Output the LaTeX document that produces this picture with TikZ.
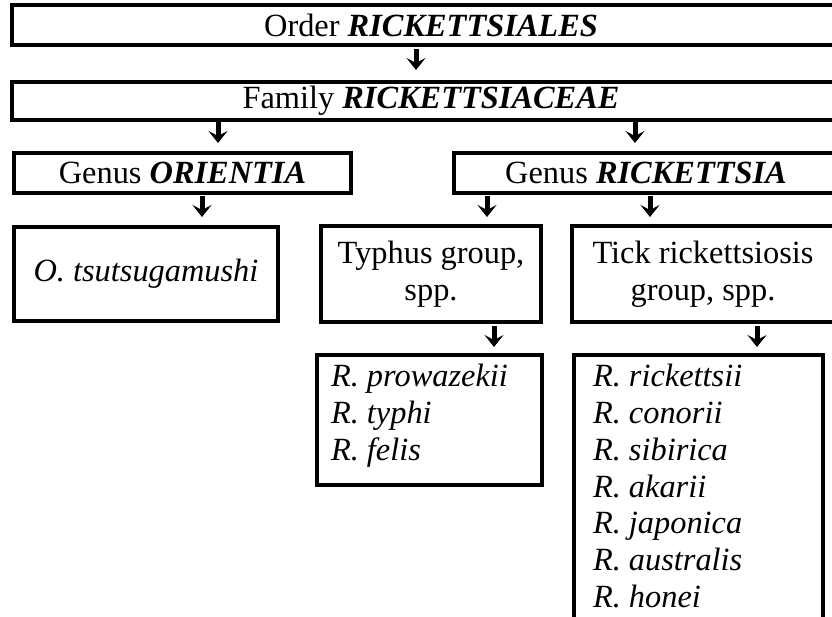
\documentclass[tikz,border=0pt]{standalone}
\usepackage{fontspec}
\setmainfont{Liberation Serif}
\usetikzlibrary{arrows.meta}
\begin{document}
\begin{tikzpicture}[x=1bp,y=-1bp,
  box/.style={draw, line width=3.5bp, inner sep=0pt, outer sep=0pt, anchor=north west,
    font=\fontsize{32.5}{37}\selectfont, align=center},
  lst/.style={inner sep=0pt, outer sep=0pt, anchor=north west, align=left,
    font=\fontsize{32.5}{37}\selectfont\itshape},
  arr/.style={line width=5bp, -{Stealth[length=12bp,width=19bp,inset=5bp]}}
]
\useasboundingbox (0,0) rectangle (832,617);
\clip (0,0) rectangle (832,617);
\newcommand{\nm}[1]{\textbf{\textit{#1}}}

\node[box, minimum width=838bp, minimum height=40bp] (order) at (12,5) {Order \nm{RICKETTSIALES}};
\node[box, minimum width=838bp, minimum height=38bp] (family) at (12,82) {Family \nm{RICKETTSIACEAE}};
\node[box, minimum width=337bp, minimum height=40bp] (orient) at (14,153) {Genus \nm{ORIENTIA}};
\node[box, minimum width=384bp, minimum height=40bp] (rick) at (454,153) {Genus \nm{RICKETTSIA}};
\node[box, minimum width=264bp, minimum height=94bp] (otsu) at (14,227) {\textit{O. tsutsugamushi}};
\node[box, minimum width=220bp, minimum height=96bp] (typhus) at (321,226) {Typhus group,\\spp.};
\node[box, minimum width=262bp, minimum height=96bp] (tick) at (572,226) {Tick rickettsiosis\\group, spp.};
\node[box, minimum width=225bp, minimum height=130bp] (tlist) at (317,355) {};
\node[box, minimum width=249bp, minimum height=300bp] (klist) at (574,355) {};
\node[lst] (ttext) at (331,364) {R. prowazekii\\R. typhi\\R. felis};
\node[lst] (ktext) at (593,364) {R. rickettsii\\R. conorii\\R. sibirica\\R. akarii\\R. japonica\\R. australis\\R. honei};

\coordinate (a1) at (416,0);
\coordinate (a2) at (218,0);
\coordinate (a3) at (635,0);
\coordinate (a4) at (202,0);
\coordinate (a5) at (487,0);
\coordinate (a6) at (650,0);
\coordinate (a7) at (494,0);
\coordinate (a8) at (757,0);

\draw[arr] ([yshift=-4bp]a1 |- order.south) -- ++(0,21);
\draw[arr] ([yshift=-2bp]a2 |- family.south) -- ++(0,21);
\draw[arr] ([yshift=-2bp]a3 |- family.south) -- ++(0,21);
\draw[arr] ([yshift=-3bp]a4 |- orient.south) -- ++(0,21);
\draw[arr] ([yshift=-3bp]a5 |- rick.south) -- ++(0,21);
\draw[arr] ([yshift=-3bp]a6 |- rick.south) -- ++(0,21);
\draw[arr] ([yshift=-4bp]a7 |- typhus.south) -- ++(0,21);
\draw[arr] ([yshift=-4bp]a8 |- tick.south) -- ++(0,21);
\end{tikzpicture}
\end{document}
